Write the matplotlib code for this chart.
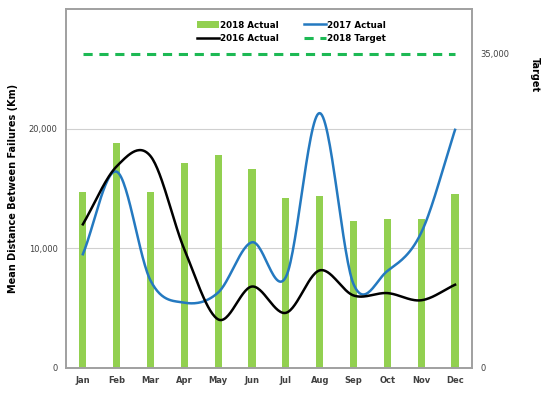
import numpy as np
import matplotlib
matplotlib.use('Agg')
import matplotlib.pyplot as plt

# Monatsdaten
months = ['Jan', 'Feb', 'Mar', 'Apr', 'May', 'Jun', 'Jul', 'Aug', 'Sep', 'Oct', 'Nov', 'Dec']
actual_2018 = [14700, 18800, 14700, 17100, 17800, 16650, 14200, 14400, 12300, 12450, 12450, 14550]
actual_2017 = [9500, 16400, 7300, 5450, 6300, 10500, 7600, 21300, 7000, 8100, 11300, 19900]
actual_2016 = [12000, 16850, 17700, 9900, 4050, 6800, 4600, 8150, 6050, 6250, 5650, 6950]
target_2018 = [35000] * 12
left_ticks = [0, 10000, 20000]
right_ticks = [0, 35000]


def smooth(y, n=30):
    # Catmull-Rom Glaettung wie bei Excel "smoothed line"
    y = np.asarray(y, dtype=float)
    x = np.arange(len(y), dtype=float)
    px = np.concatenate([[2 * x[0] - x[1]], x, [2 * x[-1] - x[-2]]])
    py = np.concatenate([[2 * y[0] - y[1]], y, [2 * y[-1] - y[-2]]])
    xs, ys = [], []
    t = np.linspace(0, 1, n, endpoint=False)
    for i in range(1, len(px) - 2):
        for arr, out in ((px, xs), (py, ys)):
            p0, p1, p2, p3 = arr[i - 1], arr[i], arr[i + 1], arr[i + 2]
            out.extend(0.5 * ((2 * p1) + (-p0 + p2) * t
                              + (2 * p0 - 5 * p1 + 4 * p2 - p3) * t ** 2
                              + (-p0 + 3 * p1 - 3 * p2 + p3) * t ** 3))
    xs.append(x[-1])
    ys.append(y[-1])
    return np.array(xs), np.array(ys)


fig = plt.figure(figsize=(5.45, 3.93), dpi=100)
ax = fig.add_axes([0.121, 0.064, 0.745, 0.913])
ax2 = ax.twinx()

x = np.arange(len(months))
bars = ax.bar(x, actual_2018, width=0.21, color='#92D050', zorder=2, label='2018 Actual')
sx, sy = smooth(actual_2017)
l17, = ax.plot(sx, sy, color='#2479C0', lw=1.8, zorder=3, label='2017 Actual')
sx, sy = smooth(actual_2016)
l16, = ax.plot(sx, sy, color='black', lw=1.8, zorder=3, label='2016 Actual')
lt, = ax2.plot(x, target_2018, color='#1DB954', lw=2.2, ls=(0, (3, 2.2)), label='2018 Target')

ax.set_xlim(-0.5, 11.5)
ax.set_ylim(0, 30000)
ax2.set_ylim(0, 40000)
ax.set_yticks(left_ticks)
ax.set_yticklabels([f'{v:,}' for v in left_ticks])
ax2.set_yticks(right_ticks)
ax2.set_yticklabels([f'{v:,}' for v in right_ticks])
ax.set_xticks(x)
ax.set_xticklabels(months, fontweight='bold')

ax.grid(axis='y', color='#D0D0D0', lw=0.8, zorder=0)
ax.set_axisbelow(True)
for a in (ax, ax2):
    a.tick_params(length=0, labelsize=6, colors='#404040', pad=6)
    for s in a.spines.values():
        s.set_color('#A0A0A0')
        s.set_linewidth(1.2)

ax.set_ylabel('Mean Distance Between Failures (Km)', fontsize=7, fontweight='bold', labelpad=8)
fig.text(0.982, 0.81, 'Target', rotation=270, fontsize=7, fontweight='bold',
         ha='center', va='center')

handles = [bars, l16, l17, lt]
ax.legend(handles, [h.get_label() for h in handles], ncol=2, loc='upper center',
          bbox_to_anchor=(0.555, 0.99), frameon=False,
          prop={'weight': 'bold', 'size': 6.3}, handlelength=2.6, columnspacing=2.8,
          labelspacing=0.55, handletextpad=0.1)

fig.savefig('out.png', dpi=100)
